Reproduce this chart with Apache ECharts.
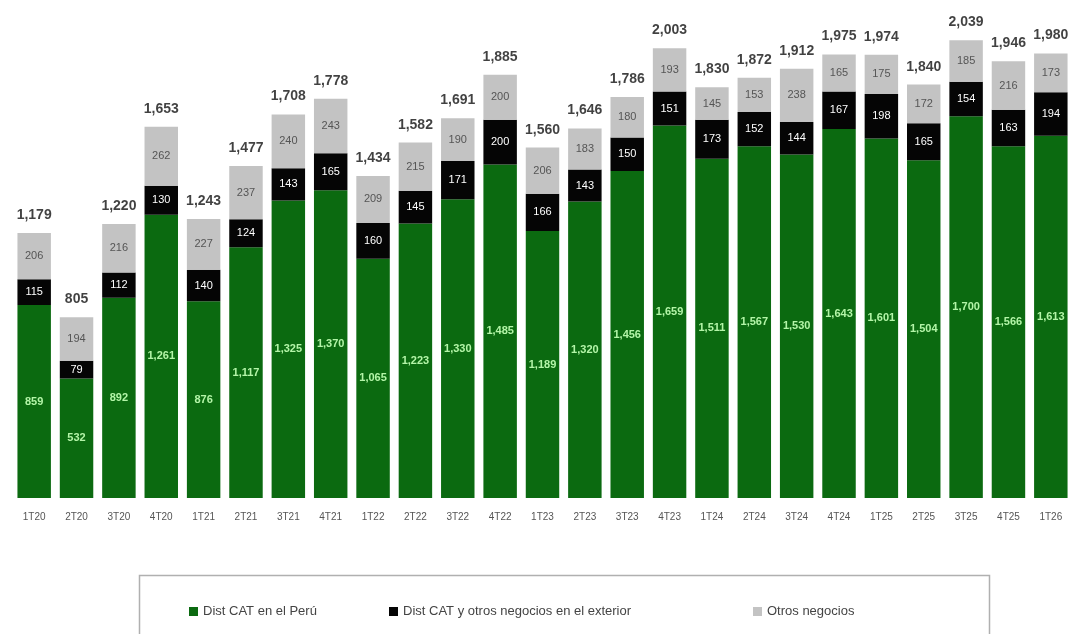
<!DOCTYPE html>
<html><head><meta charset="utf-8">
<script src="https://cdn.jsdelivr.net/npm/echarts@6/dist/echarts.min.js"></script>
<style>html,body{margin:0;padding:0;background:#fff}#c{width:1072px;height:634px}</style>
</head><body><div id="c"></div>
<script>
const categories = ['1T20','2T20','3T20','4T20','1T21','2T21','3T21','4T21','1T22','2T22','3T22','4T22','1T23','2T23','3T23','4T23','1T24','2T24','3T24','4T24','1T25','2T25','3T25','4T25','1T26'];
const distPeru = [859,532,892,1261,876,1117,1325,1370,1065,1223,1330,1485,1189,1320,1456,1659,1511,1567,1530,1643,1601,1504,1700,1566,1613];
const distExterior = [115,79,112,130,140,124,143,165,160,145,171,200,166,143,150,151,173,152,144,167,198,165,154,163,194];
const otros = [206,194,216,262,227,237,240,243,209,215,190,200,206,183,180,193,145,153,238,165,175,172,185,216,173];
const totals = [1179,805,1220,1653,1243,1477,1708,1778,1434,1582,1691,1885,1560,1646,1786,2003,1830,1872,1912,1975,1974,1840,2039,1946,1980];
const seriesNames = ['Dist CAT en el Perú','Dist CAT y otros negocios en el exterior','Otros negocios'];

const fmt = v => Number(v).toLocaleString('en-US');
const font = 'Liberation Sans, Arial, sans-serif';
const chart = echarts.init(document.getElementById('c'));
function seg(name, data, color, labelColor, weight) {
  return {
    name, type: 'bar', stack: 't', data, barCategoryGap: '21%',
    itemStyle: { color },
    label: { show: true, position: 'inside', color: labelColor, fontSize: 11, fontWeight: weight, fontFamily: font,
      formatter: p => fmt(p.value) }
  };
}
function leg(name, left) {
  return { data: [name], left, top: 600, itemWidth: 9, itemHeight: 9, icon: 'rect',
    textStyle: { color: '#444', fontSize: 13, fontFamily: font } };
}
chart.setOption({
  animation: false,
  grid: { left: 13, right: 0, top: 4, bottom: 136 },
  xAxis: { type: 'category', data: categories,
    axisLine: { show: false }, axisTick: { show: false },
    axisLabel: { color: '#555', fontSize: 10, fontFamily: font, margin: 14 } },
  yAxis: { type: 'value', min: 0, max: 2200, show: false, splitLine: { show: false } },
  graphic: [{ type: 'rect', left: 137, top: 573, shape: { width: 850, height: 70 },
    style: { fill: 'none', stroke: '#b0b0b0', lineWidth: 1.5 } }],
  legend: [leg(seriesNames[0], 184), leg(seriesNames[1], 384), leg(seriesNames[2], 748)],
  series: [
    seg(seriesNames[0], distPeru, '#0b6a10', '#b4f5a8', 'bold'),
    seg(seriesNames[1], distExterior, '#050505', '#ffffff', 'normal'),
    seg(seriesNames[2], otros, '#c3c3c3', '#555555', 'normal'),
    { type: 'scatter', data: totals, symbolSize: 0, silent: true, z: 5,
      label: { show: true, position: 'top', distance: 11, color: '#111', fontSize: 14, fontWeight: 'bold',
        fontFamily: font, formatter: p => fmt(p.value) } }
  ]
});
</script></body></html>
